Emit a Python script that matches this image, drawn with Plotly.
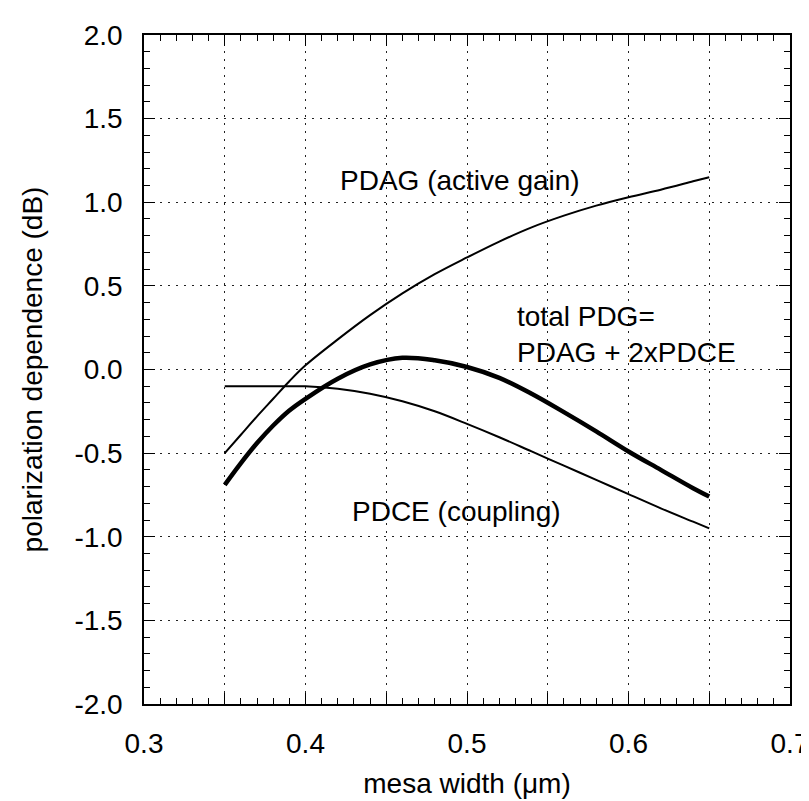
import plotly.graph_objects as go

# mesa width (um) sample points
mesa_width = [0.35, 0.36, 0.37, 0.38, 0.39, 0.40, 0.42, 0.44, 0.46, 0.48,
              0.50, 0.52, 0.54, 0.56, 0.58, 0.60, 0.62, 0.64, 0.65]

# polarization dependence (dB)
pdag = [-0.50, -0.39, -0.28, -0.175, -0.07, 0.025, 0.18, 0.325, 0.455, 0.57,
        0.67, 0.765, 0.85, 0.92, 0.98, 1.03, 1.075, 1.125, 1.15]
pdce = [-0.10, -0.10, -0.10, -0.10, -0.10, -0.10, -0.115, -0.145, -0.19, -0.25,
        -0.325, -0.405, -0.49, -0.575, -0.66, -0.745, -0.83, -0.91, -0.95]
total_pdg = [-0.69, -0.56, -0.44, -0.335, -0.245, -0.175, -0.055, 0.03, 0.07, 0.055,
             0.015, -0.05, -0.145, -0.255, -0.37, -0.49, -0.60, -0.71, -0.76]

x_ticks = [0.3, 0.35, 0.4, 0.45, 0.5, 0.55, 0.6, 0.65, 0.7]
x_ticktext = ["0.3", "", "0.4", "", "0.5", "", "0.6", "", "0.7"]
y_ticks = [-2.0, -1.5, -1.0, -0.5, 0.0, 0.5, 1.0, 1.5, 2.0]

FONT = "Liberation Sans, Arial, sans-serif"

fig = go.Figure()
fig.add_trace(go.Scatter(x=mesa_width, y=pdag, mode="lines",
                         line=dict(color="black", width=2, shape="spline")))
fig.add_trace(go.Scatter(x=mesa_width, y=pdce, mode="lines",
                         line=dict(color="black", width=2, shape="spline")))
fig.add_trace(go.Scatter(x=mesa_width, y=total_pdg, mode="lines",
                         line=dict(color="black", width=4.5, shape="spline")))

# text labels on the plot
labels = [
    (0.420, 1.13, "PDAG (active gain)"),
    (0.530, 0.21, "total PDG=<br>PDAG + 2xPDCE"),
    (0.4276, -0.85, "PDCE (coupling)"),
]
for lx, ly, txt in labels:
    fig.add_annotation(x=lx, y=ly, text=txt, showarrow=False, xanchor="left",
                       yanchor="middle", align="left",
                       font=dict(size=28, color="black", family=FONT))

axis_common = dict(
    showline=True, linecolor="black", linewidth=1.5, mirror="allticks",
    ticks="inside", ticklen=11, tickwidth=1, tickcolor="black",
    showgrid=True, gridcolor="#222", gridwidth=1, griddash="2px,6px",
    zeroline=False, automargin=False,
    tickfont=dict(size=28, color="black", family=FONT),
)

fig.update_xaxes(
    range=[0.3, 0.7], tickmode="array", tickvals=x_ticks, ticktext=x_ticktext,
    ticklabelstandoff=14, ticklabeloverflow="allow",
    minor=dict(tickmode="linear", tick0=0.3, dtick=0.01, ticks="inside",
               ticklen=6, tickcolor="black", showgrid=False),
    title=dict(text="mesa width (\u03bcm)", standoff=15,
               font=dict(size=28, color="black", family=FONT)),
    **axis_common,
)
fig.update_yaxes(
    range=[-2.0, 2.0], tickmode="array", tickvals=y_ticks,
    ticktext=[f"{v:.1f}" for v in y_ticks], ticklabelstandoff=14,
    minor=dict(tickmode="linear", tick0=-2.0, dtick=0.1, ticks="inside",
               ticklen=6, tickcolor="black", showgrid=False),
    title=dict(text="polarization dependence (dB)", standoff=24,
               font=dict(size=28, color="black", family=FONT)),
    **axis_common,
)

fig.update_layout(
    width=809, height=801,
    margin=dict(l=136, r=27, t=27, b=105),
    plot_bgcolor="white", paper_bgcolor="white",
    showlegend=False,
    font=dict(family=FONT, color="black"),
)

fig.write_html("out.html")
